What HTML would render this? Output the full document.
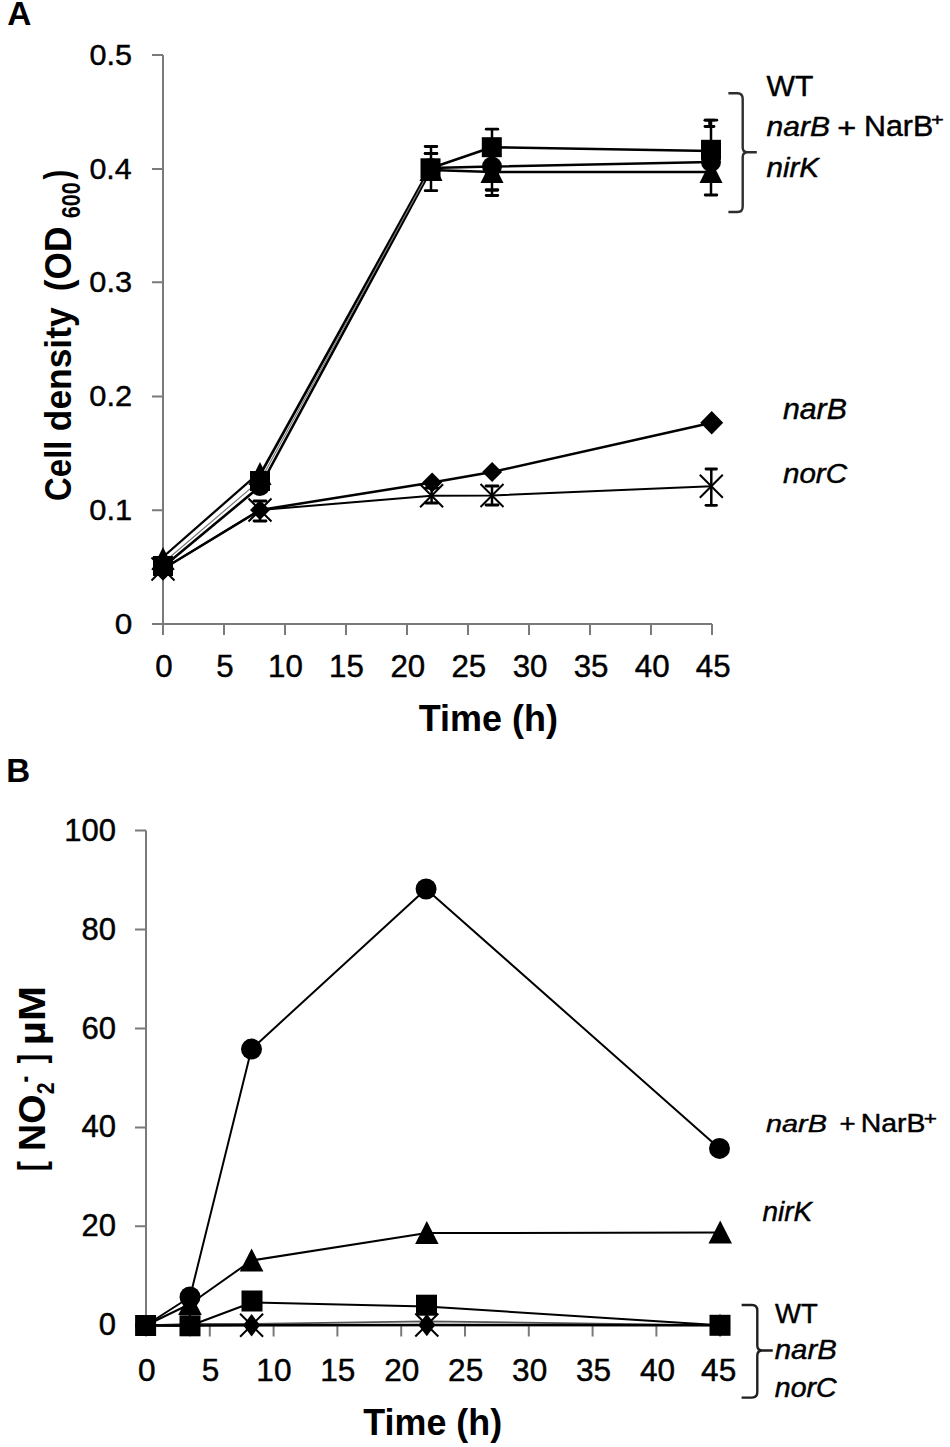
<!DOCTYPE html>
<html><head><meta charset="utf-8"><style>
html,body{margin:0;padding:0;background:#fff;}
svg{display:block;}
#w{width:950px;height:1447px;}
</style></head><body><div id="w">
<svg width="950" height="1447" viewBox="0 0 950 1447">
<rect width="950" height="1447" fill="#fff"/>
<text font-family="&quot;Liberation Sans&quot;, sans-serif" font-size="100" font-weight="bold" fill="#000" transform="matrix(0.33433 0 0 0.34058 7.36 24.60)">A</text>
<path d="M163 55V624M152 55H163M152 169H163M152 282.3H163M152 396.4H163M152 510.2H163M152 624H712" stroke="#7a7a7a" stroke-width="2" fill="none"/>
<path d="M163.0 624V635M224.0 624V635M285.0 624V635M346.0 624V635M407.0 624V635M468.0 624V635M529.0 624V635M590.0 624V635M651.0 624V635M712.0 624V635" stroke="#7a7a7a" stroke-width="2" fill="none"/>
<text font-family="&quot;Liberation Sans&quot;, sans-serif" font-size="100" stroke="#000" stroke-width="1.47" stroke-linejoin="round" fill="#000" transform="matrix(0.30846 0 0 0.30286 89.37 519.90)">0.1</text>
<text font-family="&quot;Liberation Sans&quot;, sans-serif" font-size="100" stroke="#000" stroke-width="1.47" stroke-linejoin="round" fill="#000" transform="matrix(0.30846 0 0 0.30286 89.37 406.10)">0.2</text>
<text font-family="&quot;Liberation Sans&quot;, sans-serif" font-size="100" stroke="#000" stroke-width="1.48" stroke-linejoin="round" fill="#000" transform="matrix(0.30728 0 0 0.30286 89.37 292.30)">0.3</text>
<text font-family="&quot;Liberation Sans&quot;, sans-serif" font-size="100" stroke="#000" stroke-width="1.48" stroke-linejoin="round" fill="#000" transform="matrix(0.30379 0 0 0.30286 89.38 178.50)">0.4</text>
<text font-family="&quot;Liberation Sans&quot;, sans-serif" font-size="100" stroke="#000" stroke-width="1.48" stroke-linejoin="round" fill="#000" transform="matrix(0.30611 0 0 0.30286 89.38 64.70)">0.5</text>
<text font-family="&quot;Liberation Sans&quot;, sans-serif" font-size="100" stroke="#000" stroke-width="1.45" stroke-linejoin="round" fill="#000" transform="matrix(0.31579 0 0 0.30286 114.74 633.70)">0</text>
<text font-family="&quot;Liberation Sans&quot;, sans-serif" font-size="100" stroke="#000" stroke-width="1.44" stroke-linejoin="round" transform="matrix(0.31286 0 0 0.31286 155.32 676.70)">0</text>
<text font-family="&quot;Liberation Sans&quot;, sans-serif" font-size="100" stroke="#000" stroke-width="1.44" stroke-linejoin="round" transform="matrix(0.31286 0 0 0.31286 216.32 676.70)">5</text>
<text font-family="&quot;Liberation Sans&quot;, sans-serif" font-size="100" stroke="#000" stroke-width="1.44" stroke-linejoin="round" transform="matrix(0.31286 0 0 0.31286 268.09 676.70)">10</text>
<text font-family="&quot;Liberation Sans&quot;, sans-serif" font-size="100" stroke="#000" stroke-width="1.44" stroke-linejoin="round" transform="matrix(0.31286 0 0 0.31286 329.09 676.70)">15</text>
<text font-family="&quot;Liberation Sans&quot;, sans-serif" font-size="100" stroke="#000" stroke-width="1.44" stroke-linejoin="round" transform="matrix(0.31286 0 0 0.31286 390.48 676.70)">20</text>
<text font-family="&quot;Liberation Sans&quot;, sans-serif" font-size="100" stroke="#000" stroke-width="1.44" stroke-linejoin="round" transform="matrix(0.31286 0 0 0.31286 451.48 676.70)">25</text>
<text font-family="&quot;Liberation Sans&quot;, sans-serif" font-size="100" stroke="#000" stroke-width="1.44" stroke-linejoin="round" transform="matrix(0.31286 0 0 0.31286 512.64 676.70)">30</text>
<text font-family="&quot;Liberation Sans&quot;, sans-serif" font-size="100" stroke="#000" stroke-width="1.44" stroke-linejoin="round" transform="matrix(0.31286 0 0 0.31286 573.64 676.70)">35</text>
<text font-family="&quot;Liberation Sans&quot;, sans-serif" font-size="100" stroke="#000" stroke-width="1.44" stroke-linejoin="round" transform="matrix(0.31286 0 0 0.31286 634.87 676.70)">40</text>
<text font-family="&quot;Liberation Sans&quot;, sans-serif" font-size="100" stroke="#000" stroke-width="1.44" stroke-linejoin="round" transform="matrix(0.31286 0 0 0.31286 695.87 676.70)">45</text>
<text font-family="&quot;Liberation Sans&quot;, sans-serif" font-size="100" font-weight="bold" fill="#000" transform="matrix(0.35990 0 0 0.36522 418.64 731.30)">Time (h)</text>
<text font-family="&quot;Liberation Sans&quot;, sans-serif" font-size="100" font-weight="bold" transform="matrix(0 -0.32907 0.36957 0 70.80 500.92)">Cell</text>
<text font-family="&quot;Liberation Sans&quot;, sans-serif" font-size="100" font-weight="bold" transform="matrix(0 -0.35369 0.36957 0 70.80 431.21)">density</text>
<text font-family="&quot;Liberation Sans&quot;, sans-serif" font-size="100" font-weight="bold" transform="matrix(0 -0.35172 0.36957 0 70.80 291.16)">(OD</text>
<text font-family="&quot;Liberation Sans&quot;, sans-serif" font-size="100" font-weight="bold" transform="matrix(0 -0.21572 0.24857 0 79.80 218.26)">600</text>
<text font-family="&quot;Liberation Sans&quot;, sans-serif" font-size="100" font-weight="bold" transform="matrix(0 -0.29286 0.37219 0 69.58 179.45)">)</text>
<polyline points="163.0,557.0 260.0,472.0" fill="none" stroke="#000" stroke-width="2.3" stroke-linejoin="round"/>
<polyline points="260.5,474.0 429.0,170.0" fill="none" stroke="#000" stroke-width="2.6" stroke-linejoin="round"/>
<polyline points="431.0,170.0 492.0,172.0 711.0,172.0" fill="none" stroke="#000" stroke-width="2.5" stroke-linejoin="round"/>
<polyline points="163.0,567.0 260.5,486.0 432.0,168.0" fill="none" stroke="#000" stroke-width="2.6" stroke-linejoin="round"/>
<polyline points="163.0,563.0 260.5,480.0 430.5,169.0" fill="none" stroke="#777" stroke-width="1.2" stroke-linejoin="round"/>
<polyline points="431.0,168.0 492.0,166.5 711.0,162.0" fill="none" stroke="#000" stroke-width="2.5" stroke-linejoin="round"/>
<polyline points="430.5,168.3 491.8,147.2 711.0,151.0" fill="none" stroke="#000" stroke-width="2.5" stroke-linejoin="round"/>
<polyline points="163.0,569.0 260.0,510.0 432.1,482.5 492.1,472.0 711.7,422.7" fill="none" stroke="#000" stroke-width="2.5" stroke-linejoin="round"/>
<polyline points="163.0,569.0 260.0,510.0 431.6,495.7 492.0,495.5 711.3,486.3" fill="none" stroke="#000" stroke-width="2" stroke-linejoin="round"/>
<line x1="431.0" y1="146.5" x2="431.0" y2="190.7" stroke="#000" stroke-width="2.5"/><line x1="425.2" y1="146.5" x2="436.8" y2="146.5" stroke="#000" stroke-width="2.8" stroke-linecap="round"/><line x1="425.2" y1="190.7" x2="436.8" y2="190.7" stroke="#000" stroke-width="2.8" stroke-linecap="round"/>
<line x1="431.0" y1="153.5" x2="431.0" y2="153.5" stroke="#000" stroke-width="2.5"/><line x1="425.2" y1="153.5" x2="436.8" y2="153.5" stroke="#000" stroke-width="2.8" stroke-linecap="round"/><line x1="425.2" y1="153.5" x2="436.8" y2="153.5" stroke="#000" stroke-width="2.8" stroke-linecap="round"/>
<line x1="492.0" y1="129.2" x2="492.0" y2="195.5" stroke="#000" stroke-width="2.5"/><line x1="486.2" y1="129.2" x2="497.8" y2="129.2" stroke="#000" stroke-width="2.8" stroke-linecap="round"/><line x1="486.2" y1="195.5" x2="497.8" y2="195.5" stroke="#000" stroke-width="2.8" stroke-linecap="round"/>
<line x1="492.0" y1="190.0" x2="492.0" y2="190.0" stroke="#000" stroke-width="2.5"/><line x1="486.2" y1="190.0" x2="497.8" y2="190.0" stroke="#000" stroke-width="2.8" stroke-linecap="round"/><line x1="486.2" y1="190.0" x2="497.8" y2="190.0" stroke="#000" stroke-width="2.8" stroke-linecap="round"/>
<line x1="711.0" y1="120.2" x2="711.0" y2="195.0" stroke="#000" stroke-width="2.5"/><line x1="705.2" y1="120.2" x2="716.8" y2="120.2" stroke="#000" stroke-width="2.8" stroke-linecap="round"/><line x1="705.2" y1="195.0" x2="716.8" y2="195.0" stroke="#000" stroke-width="2.8" stroke-linecap="round"/>
<line x1="709.5" y1="120.2" x2="709.5" y2="126.5" stroke="#000" stroke-width="2.5"/><line x1="705.0" y1="120.2" x2="714.0" y2="120.2" stroke="#000" stroke-width="2.8" stroke-linecap="round"/><line x1="705.0" y1="126.5" x2="714.0" y2="126.5" stroke="#000" stroke-width="2.8" stroke-linecap="round"/>
<line x1="711.3" y1="469.0" x2="711.3" y2="505.3" stroke="#000" stroke-width="2.5"/><line x1="706.0" y1="469.0" x2="716.5" y2="469.0" stroke="#000" stroke-width="2.8" stroke-linecap="round"/><line x1="706.0" y1="505.3" x2="716.5" y2="505.3" stroke="#000" stroke-width="2.8" stroke-linecap="round"/>
<line x1="492.0" y1="486.0" x2="492.0" y2="505.0" stroke="#000" stroke-width="2.5"/><line x1="486.0" y1="486.0" x2="498.0" y2="486.0" stroke="#000" stroke-width="2.8" stroke-linecap="round"/><line x1="486.0" y1="505.0" x2="498.0" y2="505.0" stroke="#000" stroke-width="2.8" stroke-linecap="round"/>
<line x1="431.6" y1="488.0" x2="431.6" y2="503.0" stroke="#000" stroke-width="2.5"/><line x1="425.6" y1="488.0" x2="437.6" y2="488.0" stroke="#000" stroke-width="2.8" stroke-linecap="round"/><line x1="425.6" y1="503.0" x2="437.6" y2="503.0" stroke="#000" stroke-width="2.8" stroke-linecap="round"/>
<line x1="260.0" y1="501.0" x2="260.0" y2="521.0" stroke="#000" stroke-width="2.5"/><line x1="254.0" y1="501.0" x2="266.0" y2="501.0" stroke="#000" stroke-width="2.8" stroke-linecap="round"/><line x1="254.0" y1="521.0" x2="266.0" y2="521.0" stroke="#000" stroke-width="2.8" stroke-linecap="round"/>
<rect x="153.0" y="556.0" width="20" height="20" fill="#000"/>
<rect x="250.0" y="471.0" width="20" height="20" fill="#000"/>
<rect x="420.5" y="158.3" width="20" height="20" fill="#000"/>
<rect x="481.8" y="137.2" width="20" height="20" fill="#000"/>
<rect x="701.0" y="139.8" width="20" height="20" fill="#000"/>
<circle cx="163.0" cy="567.0" r="10" fill="#000"/>
<circle cx="260.0" cy="486.0" r="10" fill="#000"/>
<circle cx="431.0" cy="168.0" r="10" fill="#000"/>
<circle cx="492.0" cy="166.5" r="10" fill="#000"/>
<circle cx="711.0" cy="162.0" r="10" fill="#000"/>
<path d="M163.0 547.0 L174.5 570.0 L151.5 570.0Z" fill="#000"/>
<path d="M260.0 462.0 L271.5 485.0 L248.5 485.0Z" fill="#000"/>
<path d="M431.0 158.0 L442.5 181.0 L419.5 181.0Z" fill="#000"/>
<path d="M492.0 160.0 L503.5 183.0 L480.5 183.0Z" fill="#000"/>
<path d="M711.0 160.0 L722.5 183.0 L699.5 183.0Z" fill="#000"/>
<path d="M163.0 557.2 L174.5 569.0 L163.0 580.8 L151.5 569.0Z" fill="#000"/>
<path d="M260.0 500.0 L270.0 510.0 L260.0 520.0 L250.0 510.0Z" fill="#000"/>
<path d="M432.1 472.5 L442.1 482.5 L432.1 492.5 L422.1 482.5Z" fill="#000"/>
<path d="M492.1 462.0 L502.1 472.0 L492.1 482.0 L482.1 472.0Z" fill="#000"/>
<path d="M711.7 410.9 L723.2 422.7 L711.7 434.4 L700.2 422.7Z" fill="#000"/>
<path d="M151.5 557.5L174.5 580.5M174.5 557.5L151.5 580.5" stroke="#000" stroke-width="2" fill="none"/>
<path d="M248.5 498.5L271.5 521.5M271.5 498.5L248.5 521.5" stroke="#000" stroke-width="2" fill="none"/>
<path d="M420.1 484.2L443.1 507.2M443.1 484.2L420.1 507.2" stroke="#000" stroke-width="2" fill="none"/>
<path d="M480.5 484.0L503.5 507.0M503.5 484.0L480.5 507.0" stroke="#000" stroke-width="2" fill="none"/>
<path d="M699.8 474.8L722.8 497.8M722.8 474.8L699.8 497.8" stroke="#000" stroke-width="2" fill="none"/>
<path d="M728.4 93.2H737.5Q742.7 93.2 742.7 99V147.5Q742.7 152.3 747.5 152.3H756.8M747.5 152.3Q742.7 152.3 742.7 157.1V206.5Q742.7 212 737.5 212H728.4" stroke="#2e2e2e" stroke-width="2.4" fill="none"/>
<text font-family="&quot;Liberation Sans&quot;, sans-serif" font-size="100" stroke="#000" stroke-width="1.49" stroke-linejoin="round" fill="#000" transform="matrix(0.30131 0 0 0.30145 766.45 95.80)">WT</text>
<text font-family="&quot;Liberation Sans&quot;, sans-serif" font-size="100" font-style="italic" stroke="#000" stroke-width="1.56" stroke-linejoin="round" fill="#000" transform="matrix(0.30024 0 0 0.27826 766.55 135.70)">narB</text>
<text font-family="&quot;Liberation Sans&quot;, sans-serif" font-size="100" stroke="#000" stroke-width="1.48" stroke-linejoin="round" fill="#000" transform="matrix(0.32577 0 0 0.28163 837.17 136.83)">+</text>
<text font-family="&quot;Liberation Sans&quot;, sans-serif" font-size="100" stroke="#000" stroke-width="1.52" stroke-linejoin="round" fill="#000" transform="matrix(0.30396 0 0 0.28696 863.97 135.70)">NarB</text>
<text font-family="&quot;Liberation Sans&quot;, sans-serif" font-size="100" stroke="#000" stroke-width="2.37" stroke-linejoin="round" fill="#000" transform="matrix(0.21856 0 0 0.16122 931.11 124.65)">+</text>
<text font-family="&quot;Liberation Sans&quot;, sans-serif" font-size="100" font-style="italic" stroke="#000" stroke-width="1.58" stroke-linejoin="round" fill="#000" transform="matrix(0.29526 0 0 0.27536 766.56 177.00)">nirK</text>
<text font-family="&quot;Liberation Sans&quot;, sans-serif" font-size="100" font-style="italic" stroke="#000" stroke-width="1.51" stroke-linejoin="round" fill="#000" transform="matrix(0.30266 0 0 0.29275 782.95 419.00)">narB</text>
<text font-family="&quot;Liberation Sans&quot;, sans-serif" font-size="100" font-style="italic" stroke="#000" stroke-width="1.55" stroke-linejoin="round" fill="#000" transform="matrix(0.29606 0 0 0.28451 782.96 482.80)">norC</text>
<text font-family="&quot;Liberation Sans&quot;, sans-serif" font-size="100" font-weight="bold" fill="#000" transform="matrix(0.33115 0 0 0.33913 6.35 781.90)">B</text>
<path d="M146 830.5V1325.3H720M135 1325.3H146M135 1226.3H146M135 1127.4H146M135 1028.4H146M135 929.5H146M135 830.5H146" stroke="#7a7a7a" stroke-width="2" fill="none"/>
<path d="M146.0 1325.3V1336.4M209.8 1325.3V1336.4M273.6 1325.3V1336.4M337.4 1325.3V1336.4M401.2 1325.3V1336.4M465.0 1325.3V1336.4M528.8 1325.3V1336.4M592.6 1325.3V1336.4M656.4 1325.3V1336.4M720.2 1325.3V1336.4" stroke="#7a7a7a" stroke-width="2" fill="none"/>
<text font-family="&quot;Liberation Sans&quot;, sans-serif" font-size="100" stroke="#000" stroke-width="1.45" stroke-linejoin="round" transform="matrix(0.31000 0 0 0.31000 98.64 1335.40)">0</text>
<text font-family="&quot;Liberation Sans&quot;, sans-serif" font-size="100" stroke="#000" stroke-width="1.45" stroke-linejoin="round" transform="matrix(0.31000 0 0 0.31000 81.43 1236.44)">20</text>
<text font-family="&quot;Liberation Sans&quot;, sans-serif" font-size="100" stroke="#000" stroke-width="1.45" stroke-linejoin="round" transform="matrix(0.31000 0 0 0.31000 81.43 1137.48)">40</text>
<text font-family="&quot;Liberation Sans&quot;, sans-serif" font-size="100" stroke="#000" stroke-width="1.45" stroke-linejoin="round" transform="matrix(0.31000 0 0 0.31000 81.43 1038.52)">60</text>
<text font-family="&quot;Liberation Sans&quot;, sans-serif" font-size="100" stroke="#000" stroke-width="1.45" stroke-linejoin="round" transform="matrix(0.31000 0 0 0.31000 81.43 939.56)">80</text>
<text font-family="&quot;Liberation Sans&quot;, sans-serif" font-size="100" stroke="#000" stroke-width="1.45" stroke-linejoin="round" transform="matrix(0.31000 0 0 0.31000 64.22 840.60)">100</text>
<text font-family="&quot;Liberation Sans&quot;, sans-serif" font-size="100" stroke="#000" stroke-width="1.43" stroke-linejoin="round" transform="matrix(0.31571 0 0 0.31571 138.04 1380.50)">0</text>
<text font-family="&quot;Liberation Sans&quot;, sans-serif" font-size="100" stroke="#000" stroke-width="1.43" stroke-linejoin="round" transform="matrix(0.31571 0 0 0.31571 201.84 1380.50)">5</text>
<text font-family="&quot;Liberation Sans&quot;, sans-serif" font-size="100" stroke="#000" stroke-width="1.43" stroke-linejoin="round" transform="matrix(0.31571 0 0 0.31571 256.33 1380.50)">10</text>
<text font-family="&quot;Liberation Sans&quot;, sans-serif" font-size="100" stroke="#000" stroke-width="1.43" stroke-linejoin="round" transform="matrix(0.31571 0 0 0.31571 320.13 1380.50)">15</text>
<text font-family="&quot;Liberation Sans&quot;, sans-serif" font-size="100" stroke="#000" stroke-width="1.43" stroke-linejoin="round" transform="matrix(0.31571 0 0 0.31571 384.32 1380.50)">20</text>
<text font-family="&quot;Liberation Sans&quot;, sans-serif" font-size="100" stroke="#000" stroke-width="1.43" stroke-linejoin="round" transform="matrix(0.31571 0 0 0.31571 448.12 1380.50)">25</text>
<text font-family="&quot;Liberation Sans&quot;, sans-serif" font-size="100" stroke="#000" stroke-width="1.43" stroke-linejoin="round" transform="matrix(0.31571 0 0 0.31571 512.08 1380.50)">30</text>
<text font-family="&quot;Liberation Sans&quot;, sans-serif" font-size="100" stroke="#000" stroke-width="1.43" stroke-linejoin="round" transform="matrix(0.31571 0 0 0.31571 575.88 1380.50)">35</text>
<text font-family="&quot;Liberation Sans&quot;, sans-serif" font-size="100" stroke="#000" stroke-width="1.43" stroke-linejoin="round" transform="matrix(0.31571 0 0 0.31571 639.91 1380.50)">40</text>
<text font-family="&quot;Liberation Sans&quot;, sans-serif" font-size="100" stroke="#000" stroke-width="1.43" stroke-linejoin="round" transform="matrix(0.31571 0 0 0.31571 701.11 1380.50)">45</text>
<text font-family="&quot;Liberation Sans&quot;, sans-serif" font-size="100" font-weight="bold" fill="#000" transform="matrix(0.35858 0 0 0.36667 363.34 1435.30)">Time (h)</text>
<text font-family="&quot;Liberation Sans&quot;, sans-serif" font-size="100" font-weight="bold" transform="matrix(0 -0.30189 0.37112 0 44.21 1171.26)">[</text>
<text font-family="&quot;Liberation Sans&quot;, sans-serif" font-size="100" font-weight="bold" transform="matrix(0 -0.37554 0.36812 0 44.80 1150.94)">NO</text>
<text font-family="&quot;Liberation Sans&quot;, sans-serif" font-size="100" font-weight="bold" transform="matrix(0 -0.21250 0.23857 0 53.50 1094.14)">2</text>
<text font-family="&quot;Liberation Sans&quot;, sans-serif" font-size="100" font-weight="bold" transform="matrix(0 -0.20000 0.29167 0 33.83 1082.60)">-</text>
<text font-family="&quot;Liberation Sans&quot;, sans-serif" font-size="100" font-weight="bold" transform="matrix(0 -0.27547 0.37112 0 44.21 1063.18)">]</text>
<text font-family="&quot;Liberation Sans&quot;, sans-serif" font-size="100" font-weight="bold" transform="matrix(0 -0.42118 0.36812 0 44.80 1045.34)">µM</text>
<polyline points="145.6,1325.5 190.0,1324.0 251.6,1324.0 426.8,1321.3 720.0,1325.3" fill="none" stroke="#555" stroke-width="1.8" stroke-linejoin="round"/>
<polyline points="145.6,1325.5 190.0,1325.5 251.6,1325.2 426.8,1325.0 720.0,1325.3" fill="none" stroke="#000" stroke-width="2.5" stroke-linejoin="round"/>
<polyline points="145.6,1325.5 190.0,1325.8 252.0,1302.5 426.5,1306.5 720.0,1325.3" fill="none" stroke="#000" stroke-width="2" stroke-linejoin="round"/>
<polyline points="145.6,1325.5 190.0,1304.0 251.6,1260.5 426.8,1233.0 720.2,1232.6" fill="none" stroke="#000" stroke-width="2" stroke-linejoin="round"/>
<polyline points="145.6,1325.5 190.0,1297.0 251.5,1049.1 426.1,889.0 719.5,1148.4" fill="none" stroke="#000" stroke-width="2" stroke-linejoin="round"/>
<circle cx="145.6" cy="1325.5" r="10.5" fill="#000"/>
<circle cx="190.0" cy="1297.0" r="10.5" fill="#000"/>
<circle cx="251.5" cy="1049.1" r="10.5" fill="#000"/>
<circle cx="426.1" cy="889.0" r="10.5" fill="#000"/>
<circle cx="719.5" cy="1148.4" r="10.5" fill="#000"/>
<path d="M190.0 1292.0 L201.8 1315.0 L178.2 1315.0Z" fill="#000"/>
<path d="M251.6 1248.5 L263.4 1271.5 L239.8 1271.5Z" fill="#000"/>
<path d="M426.8 1221.0 L438.6 1244.0 L415.1 1244.0Z" fill="#000"/>
<path d="M720.2 1220.6 L732.0 1243.6 L708.5 1243.6Z" fill="#000"/>
<path d="M190.0 1314.2 L198.5 1325.5 L190.0 1336.8 L181.5 1325.5Z" fill="#000"/>
<path d="M251.6 1314.0 L260.1 1325.2 L251.6 1336.5 L243.1 1325.2Z" fill="#000"/>
<path d="M426.8 1313.8 L435.3 1325.0 L426.8 1336.2 L418.3 1325.0Z" fill="#000"/>
<path d="M720.0 1314.0 L728.5 1325.3 L720.0 1336.5 L711.5 1325.3Z" fill="#000"/>
<path d="M240.1 1313.7L263.1 1336.7M263.1 1313.7L240.1 1336.7" stroke="#000" stroke-width="2" fill="none"/>
<path d="M415.3 1313.5L438.3 1336.5M438.3 1313.5L415.3 1336.5" stroke="#000" stroke-width="2" fill="none"/>
<rect x="135.1" y="1315.0" width="21" height="21" fill="#000"/>
<rect x="179.5" y="1315.3" width="21" height="21" fill="#000"/>
<rect x="241.5" y="1290.5" width="21" height="21" fill="#000"/>
<rect x="416.0" y="1294.7" width="21" height="21" fill="#000"/>
<rect x="709.5" y="1314.8" width="21" height="21" fill="#000"/>
<path d="M741.6 1305H752Q757.3 1305 757.3 1310.5V1345.5Q757.3 1350.5 762.3 1350.5H772.8M762.3 1350.5Q757.3 1350.5 757.3 1355.5V1392Q757.3 1397.6 752 1397.6H741.6" stroke="#1e1e1e" stroke-width="2.4" fill="none"/>
<text font-family="&quot;Liberation Sans&quot;, sans-serif" font-size="100" font-style="italic" stroke="#000" stroke-width="1.68" stroke-linejoin="round" fill="#000" transform="matrix(0.28862 0 0 0.24783 765.97 1131.60)">narB</text>
<text font-family="&quot;Liberation Sans&quot;, sans-serif" font-size="100" stroke="#000" stroke-width="1.66" stroke-linejoin="round" fill="#000" transform="matrix(0.27629 0 0 0.26531 839.62 1132.39)">+</text>
<text font-family="&quot;Liberation Sans&quot;, sans-serif" font-size="100" stroke="#000" stroke-width="1.67" stroke-linejoin="round" fill="#000" transform="matrix(0.28438 0 0 0.25507 860.72 1131.60)">NarB</text>
<text font-family="&quot;Liberation Sans&quot;, sans-serif" font-size="100" stroke="#000" stroke-width="2.24" stroke-linejoin="round" fill="#000" transform="matrix(0.22680 0 0 0.17551 923.87 1124.58)">+</text>
<text font-family="&quot;Liberation Sans&quot;, sans-serif" font-size="100" font-style="italic" stroke="#000" stroke-width="1.64" stroke-linejoin="round" fill="#000" transform="matrix(0.27855 0 0 0.26957 762.58 1220.60)">nirK</text>
<text font-family="&quot;Liberation Sans&quot;, sans-serif" font-size="100" stroke="#000" stroke-width="1.63" stroke-linejoin="round" fill="#000" transform="matrix(0.27516 0 0 0.27536 775.06 1322.50)">WT</text>
<text font-family="&quot;Liberation Sans&quot;, sans-serif" font-size="100" font-style="italic" stroke="#000" stroke-width="1.58" stroke-linejoin="round" fill="#000" transform="matrix(0.29346 0 0 0.27536 774.76 1358.50)">narB</text>
<text font-family="&quot;Liberation Sans&quot;, sans-serif" font-size="100" font-style="italic" stroke="#000" stroke-width="1.61" stroke-linejoin="round" fill="#000" transform="matrix(0.28538 0 0 0.27324 774.77 1397.30)">norC</text>
</svg></div>
</body></html>
